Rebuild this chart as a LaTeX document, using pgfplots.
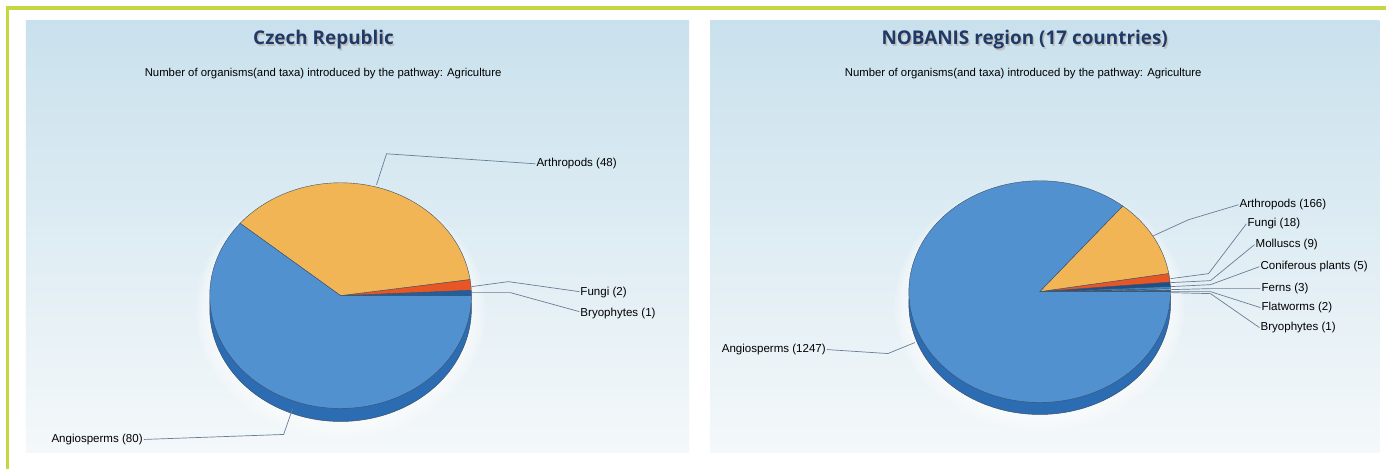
\documentclass[border=0pt]{standalone}
\usepackage{fontspec}
\usepackage{pgfplots}
\pgfplotsset{compat=1.18}
\setmainfont{Liberation Sans}
\newfontfamily\titlefont{Open Sans}

\definecolor{borderC}{RGB}{198,214,62}
\definecolor{panelTop}{RGB}{201,225,237}
\definecolor{panelBot}{RGB}{244,248,250}
\definecolor{titleC}{RGB}{31,58,102}
\definecolor{edgeC}{RGB}{60,80,105}
\definecolor{sideC}{RGB}{44,108,178}
\definecolor{angioC}{RGB}{82,145,208}
\definecolor{arthC}{RGB}{242,181,86}
\definecolor{fungiC}{RGB}{231,86,36}
\definecolor{bryoC}{RGB}{28,96,166}
\definecolor{flatC}{RGB}{40,90,150}
\definecolor{fernC}{RGB}{140,185,220}
\definecolor{conifC}{RGB}{60,135,200}
\definecolor{mollC}{RGB}{26,80,140}
\definecolor{leadC}{RGB}{105,125,150}

% values: value/colour, counter-clockwise from 3 o'clock
\def\czech{1/bryoC,2/fungiC,48/arthC,80/angioC}
\def\nobanis{1/bryoC,2/flatC,3/fernC,5/conifC,9/mollC,18/fungiC,166/arthC,1247/angioC}

\newcommand{\drawpie}[6]{% cx, cy, rx, ry, depth, list macro
  \foreach \g in {14,11,8,5,2}{%
    \pgfmathsetmacro\rxg{#3+\g}\pgfmathsetmacro\ryg{#4+\g}\pgfmathsetmacro\cyg{#2+#5+2}%
    \edef\mytemp{\noexpand\fill[white, opacity=0.18] (axis cs:#1,\cyg) ellipse [x radius=\rxg bp, y radius=\ryg bp];}\mytemp}%
  \edef\mytemp{\noexpand\addplot[fill=sideC, draw=edgeC, line width=0.5pt, domain=0:360, samples=180] ({#1+#3*cos(x)},{#2+#5-#4*sin(x)}) -- cycle;}\mytemp
  \gdef\mytot{0}%
  \foreach \v/\c in #6 {\pgfmathsetmacro\mysum{\mytot+\v}\xdef\mytot{\mysum}}%
  \gdef\myacc{0}%
  \foreach \v/\c in #6 {%
    \pgfmathsetmacro\mya{\myacc/\mytot*360}%
    \pgfmathsetmacro\mysum{\myacc+\v}%
    \xdef\myacc{\mysum}%
    \pgfmathsetmacro\myb{\myacc/\mytot*360}%
    \pgfmathtruncatemacro\mysamp{max(6,(\myb-\mya)/1.5)}%
    \edef\mytemp{\noexpand\addplot[fill=\c, draw=edgeC, line width=0.4pt, domain=\mya:\myb, samples=\mysamp] ({#1+#3*cos(x)},{#2-#4*sin(x)}) -- (axis cs:#1,#2) -- cycle;}%
    \mytemp
  }%
}

\begin{document}
\begin{tikzpicture}
\begin{axis}[
  scale only axis, width=1388bp, height=470bp,
  xmin=0, xmax=1388, ymin=0, ymax=470, y dir=reverse,
  hide axis, clip=false,
]
\fill[white] (axis cs:0,0) rectangle (axis cs:1388,470);
\shade[top color=panelTop, bottom color=panelBot] (axis cs:26,21) rectangle (axis cs:690,453);
\shade[top color=panelTop, bottom color=panelBot] (axis cs:711,21) rectangle (axis cs:1381,453);
\draw[borderC, line width=3.5bp] (axis cs:7.5,470) -- (axis cs:7.5,8) -- (axis cs:1388,8);

% titles
\node[text=black!25, font=\titlefont\bfseries\fontsize{19}{22}\selectfont] at (axis cs:325.5,41.5) {Czech Republic};
\node[text=titleC, font=\titlefont\bfseries\fontsize{19}{22}\selectfont] at (axis cs:324,40) {Czech Republic};
\node[text=black!25, font=\titlefont\bfseries\fontsize{19}{22}\selectfont] at (axis cs:1027.5,41.5) {NOBANIS region (17 countries)};
\node[text=titleC, font=\titlefont\bfseries\fontsize{19}{22}\selectfont] at (axis cs:1026,40) {NOBANIS region (17 countries)};
\node[font=\fontsize{11.4}{13}\selectfont] at (axis cs:323.5,74) {Number of organisms(and taxa) introduced by the pathway: Agriculture};
\node[font=\fontsize{11.4}{13}\selectfont] at (axis cs:1024.5,74) {Number of organisms(and taxa) introduced by the pathway: Agriculture};

% pies
\drawpie{341}{296}{131}{113}{13}{\czech}
\drawpie{1041}{292}{131}{111}{12}{\nobanis}

% leader lines (left)
\draw[leadC, line width=0.7bp] (axis cs:377,185) -- (axis cs:387,154) -- (axis cs:536,164);
\draw[leadC, line width=0.7bp] (axis cs:472,287) -- (axis cs:509,282) -- (axis cs:580,292);
\draw[leadC, line width=0.7bp] (axis cs:472,293) -- (axis cs:511,293) -- (axis cs:580,312);
\draw[leadC, line width=0.7bp] (axis cs:144,440) -- (axis cs:284,435) -- (axis cs:293,409);
% labels (left)
\begin{scope}[every node/.style={font=\fontsize{11.6}{13}\selectfont, inner sep=0pt}]
\node[anchor=west] at (axis cs:537,164) {Arthropods (48)};
\node[anchor=west] at (axis cs:581,293) {Fungi (2)};
\node[anchor=west] at (axis cs:581,314) {Bryophytes (1)};
\node[anchor=east] at (axis cs:143,440) {Angiosperms (80)};
\end{scope}

% leader lines (right)
\draw[leadC, line width=0.7bp] (axis cs:1155,236) -- (axis cs:1190,220) -- (axis cs:1240,205);
\draw[leadC, line width=0.7bp] (axis cs:1172,279) -- (axis cs:1210,274) -- (axis cs:1248,224);
\draw[leadC, line width=0.7bp] (axis cs:1172,283) -- (axis cs:1212,281) -- (axis cs:1256,245);
\draw[leadC, line width=0.7bp] (axis cs:1172,287) -- (axis cs:1212,285) -- (axis cs:1261,267);
\draw[leadC, line width=0.7bp] (axis cs:1172,290) -- (axis cs:1212,289) -- (axis cs:1262,289);
\draw[leadC, line width=0.7bp] (axis cs:1172,292) -- (axis cs:1212,292) -- (axis cs:1262,308);
\draw[leadC, line width=0.7bp] (axis cs:1172,293) -- (axis cs:1212,294) -- (axis cs:1261,328);
\draw[leadC, line width=0.7bp] (axis cs:828,350) -- (axis cs:889,354) -- (axis cs:916,343);
% labels (right)
\begin{scope}[every node/.style={font=\fontsize{11.6}{13}\selectfont, inner sep=0pt}]
\node[anchor=west] at (axis cs:1241,205) {Arthropods (166)};
\node[anchor=west] at (axis cs:1249,224) {Fungi (18)};
\node[anchor=west] at (axis cs:1257,245) {Molluscs (9)};
\node[anchor=west] at (axis cs:1262,267) {Coniferous plants (5)};
\node[anchor=west] at (axis cs:1263,289) {Ferns (3)};
\node[anchor=west] at (axis cs:1263,308) {Flatworms (2)};
\node[anchor=west] at (axis cs:1262,328) {Bryophytes (1)};
\node[anchor=east] at (axis cs:827,350) {Angiosperms (1247)};
\end{scope}
\end{axis}
\end{tikzpicture}
\end{document}
